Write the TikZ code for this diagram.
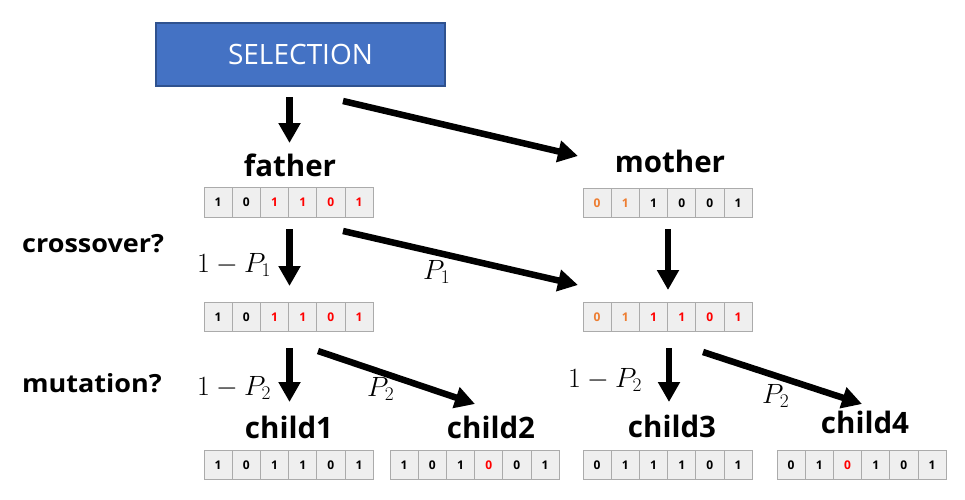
\documentclass[tikz,border=0pt]{standalone}
\usepackage[no-math]{fontspec}
\setmainfont{Open Sans}
\newfontfamily\selfont{Open Sans}
\newfontfamily\qfont{Open Sans}[FakeStretch=1.08]
\usetikzlibrary{arrows.meta}
\definecolor{selblue}{HTML}{4472C4}
\definecolor{seledge}{HTML}{2F528F}
\definecolor{bitred}{HTML}{FF0000}
\definecolor{bitorange}{HTML}{ED7D31}
\definecolor{cellfill}{HTML}{EFEFEF}
\definecolor{celledge}{HTML}{ABABAB}
\tikzset{
  cell/.style={draw=celledge, fill=cellfill, line width=1pt, minimum width=28.2pt, minimum height=29.5pt, inner sep=0pt, font=\bfseries\fontsize{12}{12}\selectfont},
  bigarrow/.style={line width=6.5pt, -{Triangle[width=21pt,length=20pt]}},
  heading/.style={anchor=base, inner sep=0pt, font=\bfseries\fontsize{29.5}{29.5}\selectfont},
  question/.style={anchor=west, inner sep=0pt, font=\qfont\bfseries\fontsize{25}{25}\selectfont},
  prob/.style={anchor=base west, inner sep=0pt, font=\fontsize{24}{24}\selectfont}
}
\newcommand\pmath[1]{\scalebox{1.12}{$#1$}}
\newcommand\bitrow[4]{%
  \foreach [count=\i] \d/\c in {#4} {
    \node[cell, text=\c] (#1-\i) at ({#2+(\i-0.5)*28.2}, {#3+14.75}) {\d};
  }}
\begin{document}
\begin{tikzpicture}[x=1pt, y=-1pt]
\useasboundingbox (0,0) rectangle (965,499);
\fill[white] (0,0) rectangle (965,499);

\node[draw=seledge, line width=1.5pt, fill=selblue, minimum width=289pt, minimum height=63pt, text=white, font=\selfont\fontsize{28}{28}\selectfont] (sel) at (300.5,54.5) {SELECTION};

\node[heading] (father) at (290,176) {father};
\node[heading] (mother) at (670,172) {mother};
\node[heading] (child1) at (289,438) {child1};
\node[heading] (child2) at (491,438) {child2};
\node[heading] (child3) at (672,437) {child3};
\node[heading] (child4) at (865,433) {child4};

\node[question] (cross) at (22,244) {crossover?};
\node[question] (mut) at (22,383) {mutation?};

\node[prob] (p1a) at (197,272) {\pmath{1-P_1}};
\node[prob] (p1b) at (423,279) {\pmath{P_1}};
\node[prob] (p2a) at (197,395) {\pmath{1-P_2}};
\node[prob] (p2b) at (367,396) {\pmath{P_2}};
\node[prob] (p2c) at (568,387) {\pmath{1-P_2}};
\node[prob] (p2d) at (762,403) {\pmath{P_2}};

\bitrow{fa}{204}{187.5}{1/black,0/black,1/bitred,1/bitred,0/bitred,1/bitred}
\bitrow{mo}{583}{188}{0/bitorange,1/bitorange,1/black,0/black,0/black,1/black}
\bitrow{xa}{204}{302}{1/black,0/black,1/bitred,1/bitred,0/bitred,1/bitred}
\bitrow{xb}{583}{302}{0/bitorange,1/bitorange,1/bitred,1/bitred,0/bitred,1/bitred}
\bitrow{ca}{204}{450}{1/black,0/black,1/black,1/black,0/black,1/black}
\bitrow{cb}{390}{450}{1/black,0/black,1/black,0/bitred,0/black,1/black}
\bitrow{cc}{583}{450}{0/black,1/black,1/black,1/black,0/black,1/black}
\bitrow{cd}{777}{450}{0/black,1/black,0/bitred,1/black,0/black,1/black}

\coordinate (a1s) at (289.5,97);  \coordinate (a1e) at (289.5,143);
\coordinate (a2s) at (343,101);   \coordinate (a2e) at (578,156);
\coordinate (a3s) at (289.5,229); \coordinate (a3e) at (289.5,286);
\coordinate (a4s) at (343,231);   \coordinate (a4e) at (578,285);
\coordinate (a5s) at (668,229);   \coordinate (a5e) at (668,290);
\coordinate (a6s) at (289.5,348); \coordinate (a6e) at (289.5,402);
\coordinate (a7s) at (318,351);   \coordinate (a7e) at (475,404);
\coordinate (a8s) at (669,348);   \coordinate (a8e) at (669,402);
\coordinate (a9s) at (703,352);   \coordinate (a9e) at (862,404);

\foreach \k in {1,...,9} { \draw[bigarrow] (a\k s) -- (a\k e); }
\end{tikzpicture}
\end{document}
